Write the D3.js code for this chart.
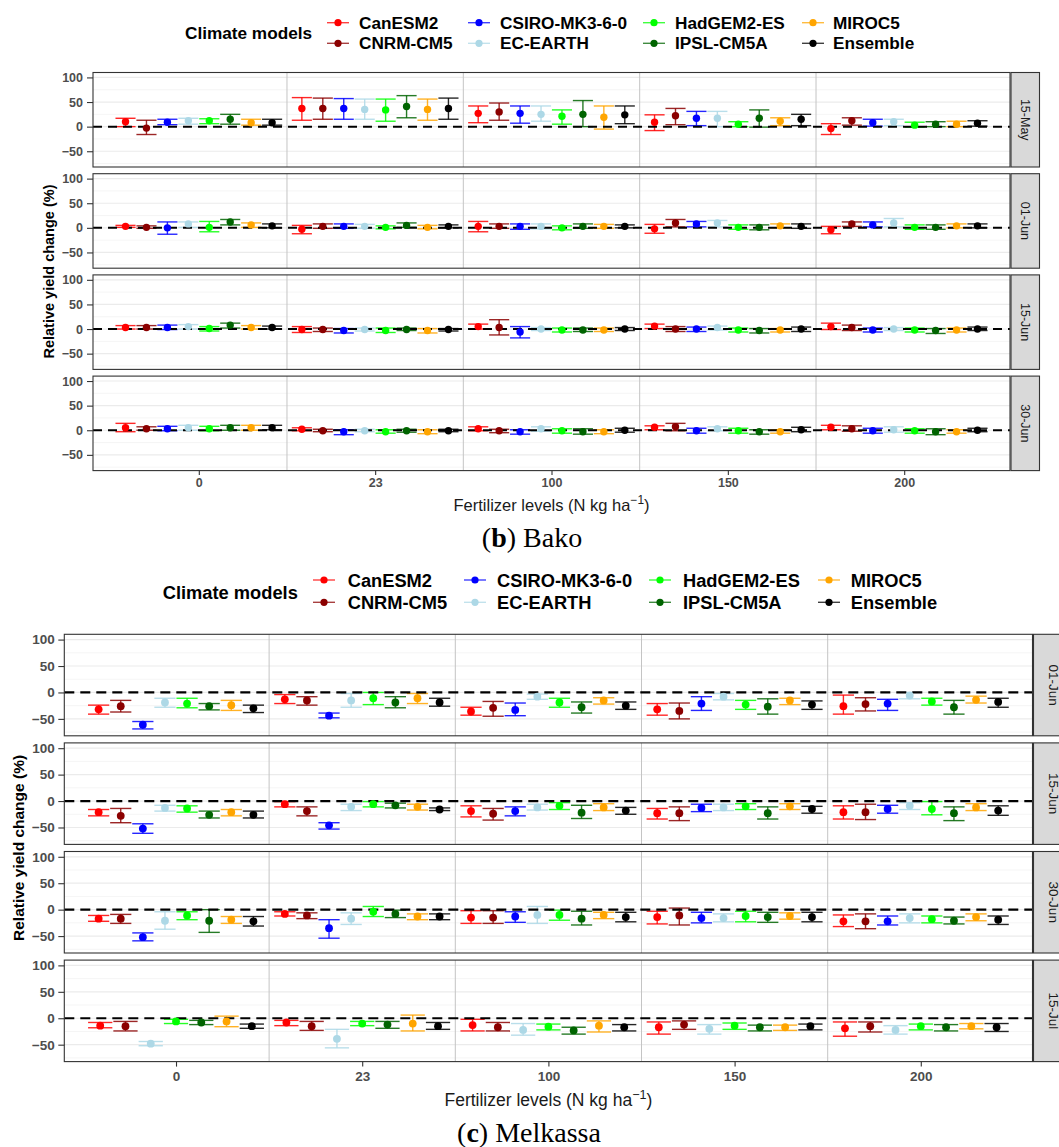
<!DOCTYPE html>
<html><head><meta charset="utf-8">
<script src="https://cdn.jsdelivr.net/npm/d3@7"></script>
<style>body{margin:0;background:#fff}svg{display:block}</style>
</head><body>
<script>
// ---------------- DATA ----------------
const models = ["CanESM2","CNRM-CM5","CSIRO-MK3-6-0","EC-EARTH","HadGEM2-ES","IPSL-CM5A","MIROC5","Ensemble"];
const modelColors = ["#FF0000","#8B0000","#0000FF","#ADD8E6","#00FF00","#006400","#FFA500","#000000"];
const fertLevels = ["0","23","100","150","200"];
const yTicks = [-50,0,50,100];
const yMinorTicks = [-75,-25,25,75];
const bakoDates = ["15-May","01-Jun","15-Jun","30-Jun"];
const melkassaDates = ["01-Jun","15-Jun","30-Jun","15-Jul"];

// rows = fertilizer levels, columns = models
const bako_15May_mean = [[10,-3,9,12,12,15,8,8],[37,37,37,35,34,41,35,37],[27,30,27,25,21,25,19,24],[9,22,17,17,5,17,11,15],[-4,12,8,10,3,5,5,7]];
const bako_15May_low  = [[0,-16,4,5,6,5,3,3],[13,15,15,15,11,18,13,15],[8,13,7,11,5,0,-5,6],[-8,4,2,0,0,-1,2,2],[-16,3,1,2,-1,0,0,1]];
const bako_15May_high = [[17,13,15,17,16,25,15,15],[59,58,57,56,56,63,56,58],[42,48,42,42,34,53,42,42],[24,37,31,31,10,34,18,25],[6,18,15,15,9,10,11,12]];

const bako_01Jun_mean = [[3,1,0,8,1,12,6,4],[-3,3,3,3,1,5,1,3],[3,3,3,3,0,3,3,3],[-2,10,8,10,1,1,4,3],[-4,8,6,10,1,1,4,4]];
const bako_01Jun_low  = [[1,-1,-13,1,-8,6,1,0],[-12,-1,-1,-1,-2,1,-2,0],[-8,-1,-3,-2,-4,-1,-1,0],[-11,2,2,2,-3,-4,0,-1],[-12,3,2,2,-3,-3,0,0]];
const bako_01Jun_high = [[5,4,12,12,13,17,10,8],[5,8,8,7,4,10,5,6],[13,8,8,8,4,8,7,6],[7,17,13,15,6,6,8,8],[3,12,12,19,6,6,8,8]];

const bako_15Jun_mean = [[3,3,3,5,1,8,3,3],[-1,-1,-3,-1,-3,-1,-3,-1],[5,3,-6,0,-2,-2,-2,0],[6,0,0,3,-2,-3,-2,0],[5,3,-2,0,-2,-3,-2,0]];
const bako_15Jun_low  = [[0,0,-1,0,-4,2,0,0],[-7,-5,-8,-4,-7,-3,-8,-4],[0,-12,-18,-3,-6,-5,-5,-3],[1,-5,-5,-2,-6,-8,-6,-5],[-1,-3,-6,-3,-6,-9,-6,-3]];
const bako_15Jun_high = [[7,7,8,9,5,12,7,6],[5,2,1,2,2,2,1,1],[10,19,5,3,2,2,2,3],[10,5,4,6,2,1,1,4],[12,8,2,3,2,1,2,4]];

const bako_30Jun_mean = [[5,3,3,5,3,5,5,5],[2,-1,-3,-1,-3,-1,-3,-1],[3,-1,-3,3,-1,-3,-3,0],[6,7,-1,3,-1,-3,-3,1],[6,3,-1,1,-1,-3,-3,0]];
const bako_30Jun_low  = [[-3,0,-1,0,-1,0,0,1],[-1,-3,-9,-3,-6,-4,-7,-3],[-1,-5,-8,-2,-6,-8,-7,-4],[1,-1,-6,-1,-6,-8,-6,-3],[1,-2,-6,-4,-6,-9,-6,-3]];
const bako_30Jun_high = [[14,7,8,10,8,10,10,10],[5,2,1,2,1,2,1,2],[7,2,1,7,3,3,1,4],[9,14,4,7,4,1,1,6],[10,9,4,7,3,3,1,4]];

const melkassa_01Jun_mean = [[-32,-26,-61,-19,-21,-26,-24,-30],[-13,-15,-44,-15,-11,-19,-11,-19],[-36,-29,-33,-8,-19,-28,-15,-25],[-32,-35,-21,-8,-23,-27,-15,-23],[-26,-22,-21,-6,-17,-28,-14,-18]];
const melkassa_01Jun_low  = [[-41,-37,-69,-28,-29,-33,-34,-38],[-21,-24,-48,-28,-23,-29,-21,-26],[-43,-45,-44,-13,-28,-39,-22,-32],[-43,-50,-34,-14,-32,-41,-23,-32],[-41,-35,-34,-12,-24,-41,-20,-28]];
const melkassa_01Jun_high = [[-24,-15,-55,-11,-11,-21,-15,-24],[-4,-8,-39,-2,0,-8,-2,-11],[-28,-17,-20,-3,-11,-18,-10,-18],[-21,-20,-8,-2,-15,-12,-11,-16],[-5,-10,-13,0,-11,-15,-7,-11]];

const melkassa_15Jun_mean = [[-21,-28,-52,-13,-14,-26,-21,-26],[-6,-19,-46,-11,-6,-8,-11,-16],[-19,-24,-19,-12,-9,-22,-12,-18],[-23,-23,-13,-12,-10,-23,-10,-15],[-21,-21,-15,-9,-15,-23,-12,-18]];
const melkassa_15Jun_low  = [[-28,-41,-61,-19,-21,-32,-28,-32],[-11,-28,-53,-18,-11,-13,-17,-18],[-30,-36,-28,-17,-16,-33,-18,-25],[-34,-37,-20,-18,-16,-34,-16,-23],[-34,-35,-23,-16,-26,-37,-18,-27]];
const melkassa_15Jun_high = [[-16,-14,-43,-8,-9,-19,-16,-19],[-1,-11,-41,-6,-1,-4,-6,-13],[-9,-14,-11,-6,-3,-8,-5,-12],[-14,-11,-6,-6,-5,-11,-5,-10],[-9,-6,-8,-3,-1,-11,-5,-9]];

const melkassa_30Jun_mean = [[-17,-17,-52,-21,-11,-21,-19,-22],[-8,-11,-35,-17,-4,-8,-13,-13],[-15,-15,-13,-10,-10,-17,-10,-14],[-14,-11,-16,-16,-12,-14,-12,-14],[-22,-22,-22,-16,-18,-21,-14,-19]];
const melkassa_30Jun_low  = [[-22,-26,-59,-37,-19,-43,-26,-31],[-12,-17,-54,-28,-13,-15,-19,-19],[-26,-26,-24,-26,-20,-29,-17,-23],[-27,-29,-25,-23,-23,-24,-18,-23],[-32,-36,-29,-25,-25,-27,-21,-28]];
const melkassa_30Jun_high = [[-11,-9,-44,-4,-4,0,-13,-13],[-4,-6,-19,-6,6,-1,-8,-8],[-2,-2,-4,6,-1,-3,-5,-5],[-3,3,-5,-8,-3,-5,-6,-5],[-10,-8,-12,-8,-12,-14,-8,-12]];

const melkassa_15Jul_mean = [[-14,-15,null,-48,-6,-8,-6,-15],[-8,-15,null,-39,-10,-12,-10,-15],[-13,-17,null,-22,-16,-23,-14,-17],[-17,-12,null,-20,-14,-17,-17,-15],[-19,-15,null,-22,-15,-17,-15,-17]];
const melkassa_15Jul_low  = [[-18,-24,null,-52,-10,-12,-16,-19],[-14,-23,null,-56,-14,-19,-24,-21],[-24,-24,null,-32,-22,-30,-26,-24],[-30,-21,null,-30,-21,-24,-23,-22],[-34,-26,null,-30,-22,-24,-20,-25]];
const melkassa_15Jul_high = [[-8,-6,null,-44,-2,-4,4,-11],[-4,-6,null,-21,-6,-6,6,-8],[-2,-8,null,-10,-11,-17,-5,-12],[-7,-5,null,-12,-9,-13,-13,-11],[-7,-7,null,-14,-11,-12,-10,-10]];

// ---------------- LAYOUT ----------------
const FONT = "'Liberation Sans', Arial, Helvetica, sans-serif";
const W = 1059, H = 1147;
const svg = d3.select("body").append("svg").attr("width", W).attr("height", H);
svg.append("rect").attr("width", W).attr("height", H).attr("fill", "#fff");

const bakoLayout = {
  left: 93, right: 1010, tops: [72.5, 173.7, 274.9, 376.1], h: 94.5,
  stripX: 1011, stripW: 28.5, stripTextX: 1024.5, stripFont: 12.5,
  tickFont: 12.5, tickLen: 6, tickPad: 4, xTickLen: 4.5, xTickPad: 3.5,
  yTitleX: 49, yTitleFont: 14.5, xTitleY: 511, xTitleFont: 16.5,
  dash: "9,6", dashW: 2, r: 3.7,
  legend: { titleX: 185, titleY: 33, rowY: [22.7, 43.3], keyX: [327, 468, 643, 802], keyW: 22, textX: [359, 500, 675, 833], font: 17.2 },
  caption: { label: "b", name: "Bako", x: 532, y: 547 }
};
const melkassaLayout = {
  left: 64.3, right: 1032.5, tops: [634.3, 742.9, 851.5, 960.1], h: 101.5,
  stripX: 1033.5, stripW: 40, stripTextX: 1053, stripFont: 13.5,
  tickFont: 13.5, tickLen: 6, tickPad: 3.5, xTickLen: 5, xTickPad: 4.5,
  yTitleX: 18, yTitleFont: 15.5, xTitleY: 1105.5, xTitleFont: 17.5,
  dash: "10,6", dashW: 2.2, r: 3.9,
  legend: { titleX: 162.7, titleY: 592.3, rowY: [580, 602.3], keyX: [313, 464, 649, 818], keyW: 22, textX: [347.7, 497, 683, 850.7], font: 18.3 },
  caption: { label: "c", name: "Melkassa", x: 529, y: 1142 }
};

function drawSite(L, dates, means, lows, highs) {
  const g = svg.append("g");
  const x = d3.scalePoint().domain(fertLevels).range([L.left, L.right]).padding(0.6);
  const step = x.step();
  const pw = L.right - L.left;

  dates.forEach((date, p) => {
    const top = L.tops[p], bottom = top + L.h;
    const y = d3.scaleLinear().domain([-82, 110]).range([bottom, top]);
    const pg = g.append("g");
    pg.append("rect").attr("x", L.left).attr("y", top).attr("width", pw).attr("height", L.h).attr("fill", "#fff");
    pg.selectAll(".minor").data(yMinorTicks).enter().append("line")
      .attr("x1", L.left).attr("x2", L.right).attr("y1", d => y(d)).attr("y2", d => y(d))
      .attr("stroke", "#f2f2f2").attr("stroke-width", 0.8);
    pg.selectAll(".major").data(yTicks).enter().append("line")
      .attr("x1", L.left).attr("x2", L.right).attr("y1", d => y(d)).attr("y2", d => y(d))
      .attr("stroke", "#ebebeb").attr("stroke-width", 1.2);
    const seps = d3.pairs(fertLevels).map(([a, b]) => (x(a) + x(b)) / 2);
    pg.selectAll(".sep").data(seps).enter().append("line")
      .attr("x1", d => d).attr("x2", d => d).attr("y1", top).attr("y2", bottom)
      .attr("stroke", "#c4c4c4").attr("stroke-width", 1);

    const recs = [];
    fertLevels.forEach((f, fi) => {
      const present = d3.range(models.length).filter(mi => means[p][fi][mi] !== null);
      const dodge = d3.scaleBand().domain(present).range([-step * 0.95 / 2, step * 0.95 / 2]);
      const bw = dodge.bandwidth();
      present.forEach(mi => {
        recs.push({ cx: x(f) + dodge(mi) + bw / 2, bw, color: modelColors[mi],
          m: means[p][fi][mi], lo: lows[p][fi][mi], hi: highs[p][fi][mi] });
      });
    });
    const eb = pg.selectAll(".eb").data(recs).enter().append("g")
      .attr("stroke", d => d.color).attr("stroke-width", 1.4).attr("stroke-opacity", 0.85).attr("fill", "none");
    eb.append("line").attr("x1", d => d.cx).attr("x2", d => d.cx).attr("y1", d => y(d.lo)).attr("y2", d => y(d.hi));
    eb.append("line").attr("x1", d => d.cx - d.bw * 0.48).attr("x2", d => d.cx + d.bw * 0.48).attr("y1", d => y(d.lo)).attr("y2", d => y(d.lo));
    eb.append("line").attr("x1", d => d.cx - d.bw * 0.48).attr("x2", d => d.cx + d.bw * 0.48).attr("y1", d => y(d.hi)).attr("y2", d => y(d.hi));

    pg.append("line").attr("x1", L.left).attr("x2", L.right).attr("y1", y(0)).attr("y2", y(0))
      .attr("stroke", "#000").attr("stroke-width", L.dashW).attr("stroke-dasharray", L.dash);

    pg.selectAll(".pt").data(recs).enter().append("circle")
      .attr("cx", d => d.cx).attr("cy", d => y(d.m)).attr("r", L.r).attr("fill", d => d.color);

    pg.append("rect").attr("x", L.left).attr("y", top).attr("width", pw).attr("height", L.h)
      .attr("fill", "none").attr("stroke", "#333").attr("stroke-width", 1.1);
    pg.append("rect").attr("x", L.stripX).attr("y", top).attr("width", L.stripW).attr("height", L.h)
      .attr("fill", "#d9d9d9").attr("stroke", "#333").attr("stroke-width", 1.1);
    pg.append("text").attr("transform", `translate(${L.stripTextX},${top + L.h / 2}) rotate(90)`)
      .attr("text-anchor", "middle").attr("dominant-baseline", "central")
      .attr("font-family", FONT).attr("font-size", L.stripFont).attr("fill", "#1a1a1a").text(date);

    const ya = pg.append("g").attr("transform", `translate(${L.left},0)`)
      .call(d3.axisLeft(y).tickValues(yTicks).tickSize(L.tickLen).tickPadding(L.tickPad));
    ya.select(".domain").remove();
    ya.selectAll(".tick line").attr("stroke", "#333").attr("stroke-width", 1.1);
    ya.selectAll(".tick text").attr("font-family", FONT).attr("font-size", L.tickFont)
      .attr("font-weight", "bold").attr("fill", "#4d4d4d");

    if (p === dates.length - 1) {
      const xa = pg.append("g").attr("transform", `translate(0,${bottom})`)
        .call(d3.axisBottom(x).tickSize(L.xTickLen).tickPadding(L.xTickPad));
      xa.select(".domain").remove();
      xa.selectAll(".tick line").attr("stroke", "#333").attr("stroke-width", 1.1);
      xa.selectAll(".tick text").attr("font-family", FONT).attr("font-size", L.tickFont)
        .attr("font-weight", "bold").attr("fill", "#4d4d4d");
    }
  });

  const cy = (L.tops[0] + L.tops[L.tops.length - 1] + L.h) / 2;
  g.append("text").attr("transform", `translate(${L.yTitleX},${cy}) rotate(-90)`)
    .attr("text-anchor", "middle").attr("dominant-baseline", "central")
    .attr("font-family", FONT).attr("font-size", L.yTitleFont).attr("font-weight", "bold")
    .attr("fill", "#000").text("Relative yield change (%)");

  const xt = g.append("text").attr("x", (L.left + L.right) / 2).attr("y", L.xTitleY)
    .attr("text-anchor", "middle").attr("font-family", FONT).attr("font-size", L.xTitleFont).attr("fill", "#1a1a1a");
  xt.append("tspan").text("Fertilizer levels (N kg ha");
  xt.append("tspan").attr("dy", -L.xTitleFont * 0.4).attr("font-size", L.xTitleFont * 0.72).text("\u22121");
  xt.append("tspan").attr("dy", L.xTitleFont * 0.4).text(")");

  const lg = L.legend;
  g.append("text").attr("x", lg.titleX).attr("y", lg.titleY + lg.font * 0.36)
    .attr("font-family", FONT).attr("font-size", lg.font).attr("font-weight", "bold").attr("fill", "#000")
    .text("Climate models");
  models.forEach((m, i) => {
    const col = Math.floor(i / 2), row = i % 2;
    const ky = lg.rowY[row];
    g.append("line").attr("x1", lg.keyX[col]).attr("x2", lg.keyX[col] + lg.keyW).attr("y1", ky).attr("y2", ky)
      .attr("stroke", modelColors[i]).attr("stroke-width", 1.4).attr("stroke-opacity", 0.75);
    g.append("circle").attr("cx", lg.keyX[col] + lg.keyW / 2).attr("cy", ky).attr("r", 3.6).attr("fill", modelColors[i]);
    g.append("text").attr("x", lg.textX[col]).attr("y", ky + lg.font * 0.36)
      .attr("font-family", FONT).attr("font-size", lg.font).attr("font-weight", "bold").attr("fill", "#000").text(m);
  });

  const c = L.caption;
  const ct = g.append("text").attr("x", c.x).attr("y", c.y).attr("text-anchor", "middle")
    .attr("font-family", "'Liberation Serif', 'Times New Roman', serif").attr("font-size", 28).attr("fill", "#000");
  ct.append("tspan").text("(");
  ct.append("tspan").attr("font-weight", "bold").text(c.label);
  ct.append("tspan").text(") " + c.name);
}

drawSite(bakoLayout, bakoDates,
  [bako_15May_mean, bako_01Jun_mean, bako_15Jun_mean, bako_30Jun_mean],
  [bako_15May_low, bako_01Jun_low, bako_15Jun_low, bako_30Jun_low],
  [bako_15May_high, bako_01Jun_high, bako_15Jun_high, bako_30Jun_high]);
drawSite(melkassaLayout, melkassaDates,
  [melkassa_01Jun_mean, melkassa_15Jun_mean, melkassa_30Jun_mean, melkassa_15Jul_mean],
  [melkassa_01Jun_low, melkassa_15Jun_low, melkassa_30Jun_low, melkassa_15Jul_low],
  [melkassa_01Jun_high, melkassa_15Jun_high, melkassa_30Jun_high, melkassa_15Jul_high]);
</script>
</body></html>
